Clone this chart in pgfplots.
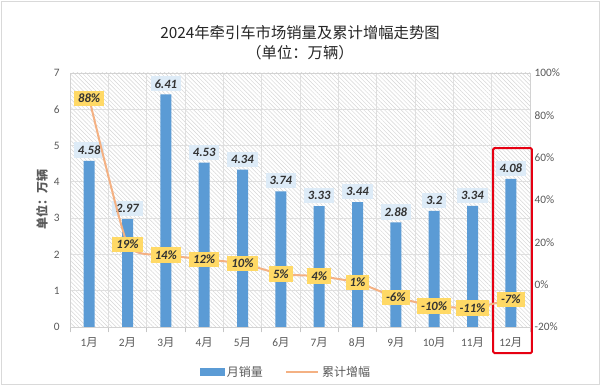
\documentclass[border=0pt]{standalone}
\usepackage{fontspec}
\setmainfont{Carlito}
\newfontfamily\cjk{Noto Sans CJK SC}
\usepackage{pgfplots}
\pgfplotsset{compat=1.18}
\usetikzlibrary{patterns.meta}
\definecolor{barblue}{HTML}{5B9BD5}
\definecolor{lineor}{HTML}{F4B183}
\definecolor{lblblue}{HTML}{DDEBF7}
\definecolor{lblyel}{HTML}{FFD966}
\definecolor{tickgray}{HTML}{595959}
\definecolor{boxred}{HTML}{E60012}
\begin{document}
\begin{tikzpicture}
\path[draw=gray!30, fill=white] (0.75pt,0.75pt) rectangle (449.25pt,288pt);
\useasboundingbox (0pt,0pt) rectangle (450pt,288.75pt);
\node[font=\cjk\fontsize{11.5}{13}\selectfont, text=black!85] at (225pt,264pt) {2024年牵引车市场销量及累计增幅走势图};
\node[font=\cjk\fontsize{11.5}{13}\selectfont, text=black!85] at (225pt,249pt) {（单位：万辆）};
\begin{axis}[
  at={(52.5pt,43.5pt)}, anchor=south west, scale only axis,
  width=345pt, height=190.5pt,
  xmin=-0.5, xmax=11.5, ymin=0, ymax=7,
  ytick={0,...,7},
  xtick={0,...,11},
  xticklabels={1{\cjk 月},2{\cjk 月},3{\cjk 月},4{\cjk 月},5{\cjk 月},6{\cjk 月},7{\cjk 月},8{\cjk 月},9{\cjk 月},10{\cjk 月},11{\cjk 月},12{\cjk 月}},
  minor xtick={-0.5,0.5,...,11.5},
  xminorgrids, ymajorgrids,
  grid style={gray!25, line width=0.7pt},
  minor grid style={gray!25, line width=0.7pt},
  major tick style={draw=none},
  minor x tick style={draw=gray!45, line width=0.6pt},
  tick align=outside, minor tick length=4pt,
  xtick pos=bottom, ytick pos=left,
  axis background/.style={pattern={Lines[angle=-45,distance=2.2pt,line width=0.35pt]}, pattern color=gray!32},
  axis line style={draw=gray!35, line width=0.6pt},
  tick label style={font=\fontsize{8.5}{10}\selectfont, text=tickgray},
  /pgf/number format/assume math mode=true,
  ylabel={单位：万辆},
  ylabel style={font=\cjk\bfseries\fontsize{9}{10}\selectfont, text=tickgray, at={(axis description cs:-0.061,0.5)}, anchor=center},
  clip=false,
  ybar, bar width=8.25pt,
]
\addplot[fill=barblue, draw=none,
  nodes near coords,
  every node near coord/.append style={fill=lblblue, font=\fontsize{9.5}{11}\selectfont\bfseries\itshape, text=black!80, inner xsep=3pt, inner ysep=2.5pt, yshift=2pt}]
  coordinates {(0,4.58) (1,2.97) (2,6.41) (3,4.53) (4,4.34) (5,3.74) (6,3.33) (7,3.44) (8,2.88) (9,3.2) (10,3.34) (11,4.08)};
\draw[boxred, line width=1.5pt, rounded corners=1pt] (axis cs:10.54,4.93) rectangle (axis cs:11.55,-0.72);
\end{axis}
\begin{axis}[
  at={(52.5pt,43.5pt)}, anchor=south west, scale only axis,
  width=345pt, height=190.5pt,
  xmin=-0.5, xmax=11.5, ymin=-20, ymax=100,
  ytick={-20,0,...,100},
  yticklabel={\pgfmathprintnumber{\tick}\%},
  axis y line*=right, axis x line=none,
  axis line style={draw=none},
  major tick style={draw=none},
  tick label style={font=\fontsize{8.5}{10}\selectfont, text=tickgray},
  /pgf/number format/assume math mode=true,
  clip=false,
  legend style={at={(0.47,-0.177)}, anchor=center, draw=none, fill=none,
    font=\cjk\fontsize{9}{10}\selectfont, text=tickgray,
    /tikz/every even column/.append style={column sep=15pt}},
  legend columns=2,
]
\addlegendimage{legend image code/.code={\fill[barblue] (0pt,-2.5pt) rectangle (18pt,2.5pt);}}
\addlegendentry{月销量}
\addlegendimage{legend image code/.code={\draw[lineor,line width=1.5pt] (0pt,0pt) -- (24pt,0pt);}}
\addlegendentry{累计增幅}
\addplot[lineor, line width=1.5pt, smooth, tension=0.3, forget plot,
  nodes near coords, point meta=explicit symbolic,
  every node near coord/.style={anchor=center, fill=lblyel, font=\fontsize{9.5}{11}\selectfont\bfseries\itshape, text=black!80, inner xsep=3pt, inner ysep=2.5pt}]
  coordinates {(0,88)[88\%] (1,19)[19\%] (2,14)[14\%] (3,12)[12\%] (4,10)[10\%] (5,5)[5\%] (6,4)[4\%] (7,1)[1\%] (8,-6)[-6\%] (9,-10)[-10\%] (10,-11)[-11\%] (11,-7)[-7\%]};
\end{axis}
\end{tikzpicture}
\end{document}
